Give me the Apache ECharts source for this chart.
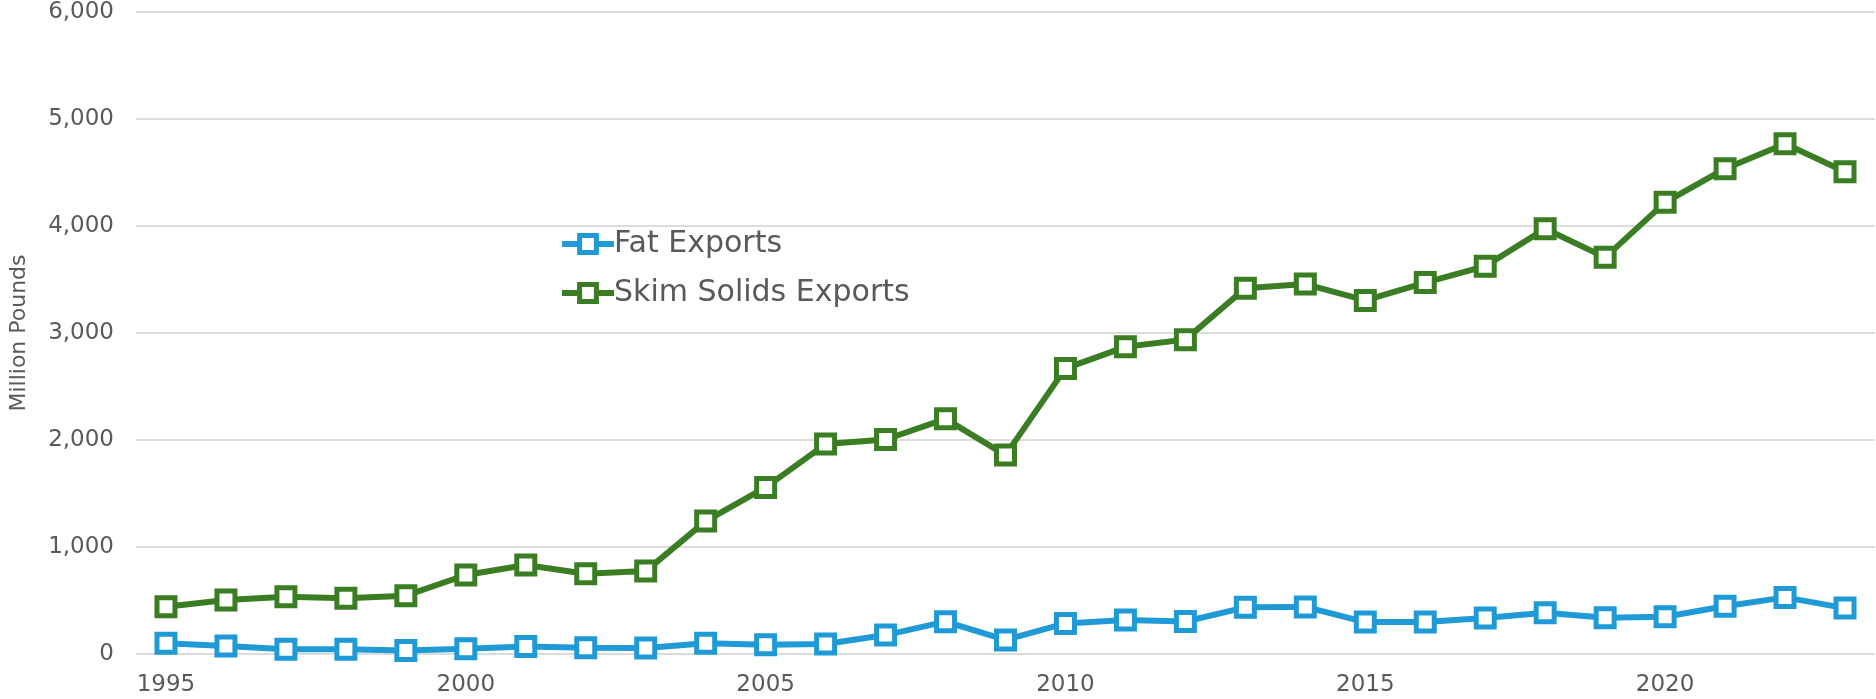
<!DOCTYPE html>
<html>
<head>
<meta charset="utf-8">
<script src="https://cdn.jsdelivr.net/npm/echarts@6/dist/echarts.min.js"></script>
<style>
  html, body { margin: 0; padding: 0; background: #fff; }
  #chart { width: 1876px; height: 699px; }
</style>
</head>
<body>
<div id="chart"></div>
<script>
// years on the x axis
var years = ['1995','1996','1997','1998','1999','2000','2001','2002','2003','2004',
  '2005','2006','2007','2008','2009','2010','2011','2012','2013','2014',
  '2015','2016','2017','2018','2019','2020','2021','2022','2023'];

// million pounds
var fatExports = [100, 75, 45, 45, 32, 50, 69, 59, 55, 100,
  86, 93, 177, 302, 131, 286, 318, 304, 436, 440,
  298, 298, 336, 386, 338, 348, 446, 529, 429];

var skimExports = [442, 504, 535, 520, 545, 738, 831, 750, 775, 1242,
  1557, 1962, 2005, 2198, 1859, 2669, 2871, 2938, 3418, 3457,
  3304, 3471, 3625, 3975, 3707, 4221, 4536, 4768, 4507];

var yTicks = { min: 0, max: 6000, step: 1000 };

var blue = '#1f9ad6';
var green = '#3a7d22';
var textGray = '#595959';

var myChart = echarts.init(document.getElementById('chart'));

function lineSeries(name, color, data) {
  return {
    name: name,
    type: 'line',
    data: data,
    symbol: 'rect',
    symbolSize: 18,
    showAllSymbol: true,
    lineStyle: { color: color, width: 6 },
    itemStyle: { color: '#fff', borderColor: color, borderWidth: 5 },
    emphasis: { disabled: true }
  };
}

myChart.setOption({
  animation: false,
  textStyle: { fontFamily: 'DejaVu Sans' },
  grid: {
    left: 125,
    right: 1,
    top: 12,
    bottom: 45
  },
  legend: {
    orient: 'vertical',
    left: 554,
    top: 224,
    itemWidth: 52,
    itemHeight: 21,
    itemGap: 19,
    lineStyle: { width: 6 },
    itemStyle: { borderWidth: 5 },
    textStyle: { fontSize: 30, color: textGray, padding: [0, 0, 0, -5] },
    data: ['Fat Exports', 'Skim Solids Exports']
  },
  xAxis: {
    type: 'category',
    data: years,
    boundaryGap: true,
    axisLine: { show: false },
    axisTick: { show: false },
    axisLabel: {
      interval: 4,
      fontSize: 23,
      color: textGray,
      margin: 20
    }
  },
  yAxis: {
    type: 'value',
    min: yTicks.min,
    max: yTicks.max,
    interval: yTicks.step,
    name: 'Million Pounds',
    nameLocation: 'middle',
    nameGap: 106,
    nameRotate: 90,
    nameTextStyle: { fontSize: 22, color: textGray },
    axisLine: { show: false },
    axisTick: { show: false },
    axisLabel: {
      fontSize: 23,
      color: textGray,
      margin: 22,
      formatter: function (v) { return v.toLocaleString('en-US'); }
    },
    splitLine: { lineStyle: { color: '#dcdcdc', width: 2 } }
  },
  series: [
    lineSeries('Fat Exports', blue, fatExports),
    lineSeries('Skim Solids Exports', green, skimExports)
  ]
});
</script>
</body>
</html>
